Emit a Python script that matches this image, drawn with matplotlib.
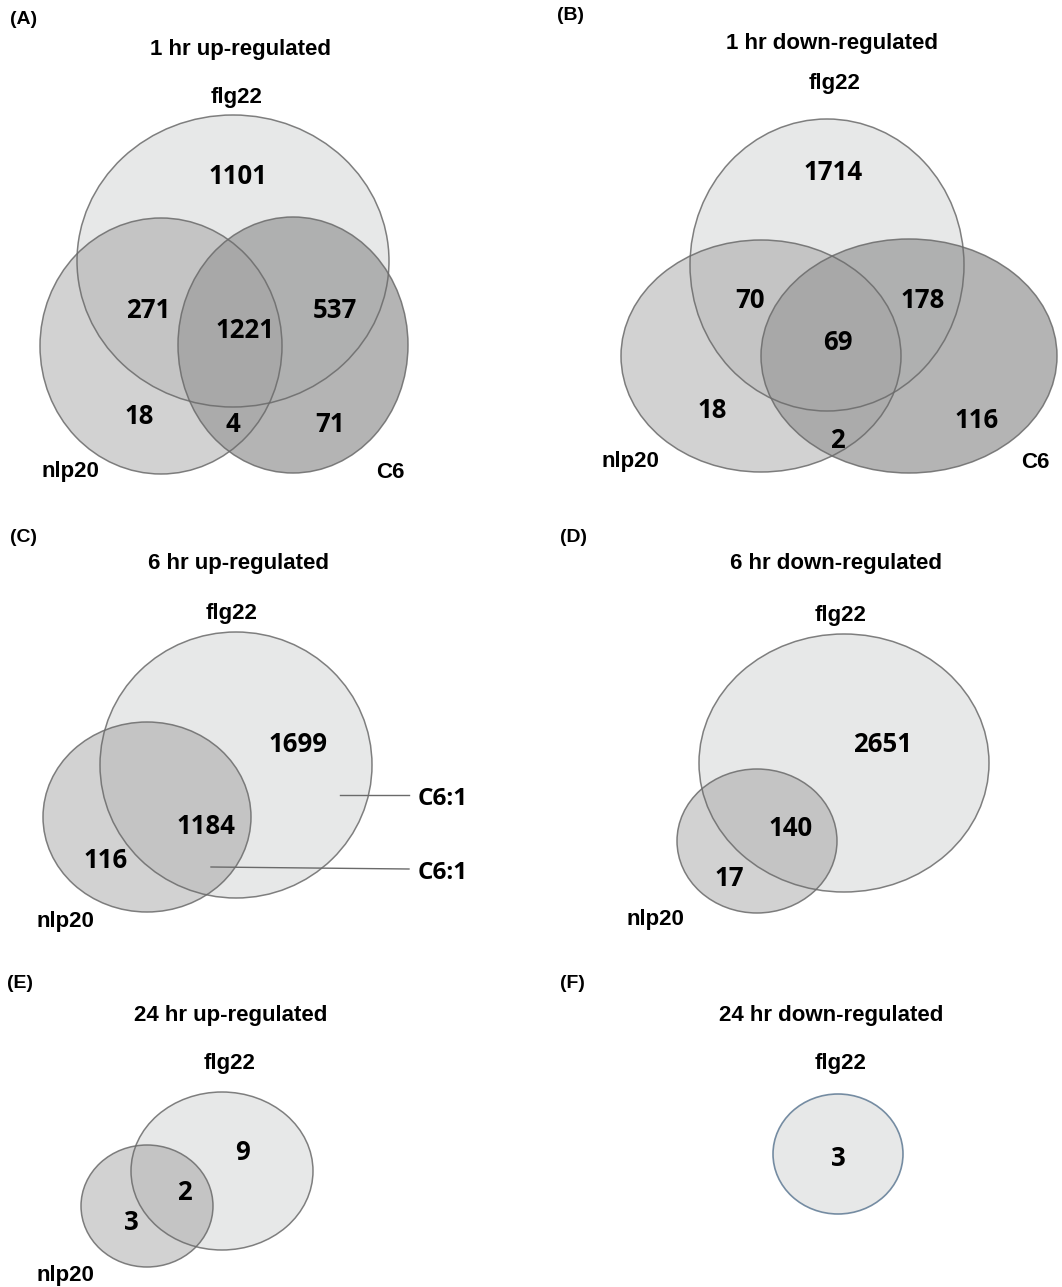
import matplotlib
matplotlib.use("Agg")
import matplotlib.pyplot as plt
from matplotlib.patches import Ellipse

# gene counts for each Venn region
counts_1h_up = [1101, 271, 1221, 537, 18, 4, 71]     # flg22, flg22&nlp20, all, flg22&C6, nlp20, nlp20&C6, C6
counts_1h_down = [1714, 70, 69, 178, 18, 2, 116]
counts_6h_up = [1699, 1184, 116]                     # flg22, flg22&nlp20, nlp20
counts_6h_down = [2651, 140, 17]
counts_24h_up = [9, 2, 3]
counts_24h_down = [3]
c6_6h_up = [1, 1]                                    # C6 genes shared with flg22 / flg22&nlp20

panel_tags = ["(A)", "(B)", "(C)", "(D)", "(E)", "(F)"]
titles = ["1 hr up-regulated", "1 hr down-regulated", "6 hr up-regulated",
          "6 hr down-regulated", "24 hr up-regulated", "24 hr down-regulated"]

W, H = 1062, 1287
fig = plt.figure(figsize=(W / 100, H / 100), dpi=100)
ax = fig.add_axes([0, 0, 1, 1])
ax.set_xlim(0, W)
ax.set_ylim(H, 0)
ax.axis("off")

label_font = dict(family="Liberation Sans", weight="bold", color="black")
num_font = dict(family="Open Sans", weight="bold", color="black", size=18.5)

fill_flg = "#e7e8e8"
fill_nlp = dict(color="#949494", alpha=0.42)
fill_c6 = dict(color="#a2a2a2", alpha=0.8)
edge = "#6a6a6a"


def set_ellipse(cx, cy, rx, ry, style, lw=1.1, ec=edge):
    if style == "flg":
        ax.add_patch(Ellipse((cx, cy), 2 * rx, 2 * ry, facecolor=fill_flg, edgecolor="none", zorder=1))
    elif style == "nlp":
        ax.add_patch(Ellipse((cx, cy), 2 * rx, 2 * ry, facecolor=fill_nlp["color"],
                             alpha=fill_nlp["alpha"], edgecolor="none", zorder=2))
    else:
        ax.add_patch(Ellipse((cx, cy), 2 * rx, 2 * ry, facecolor=fill_c6["color"],
                             alpha=fill_c6["alpha"], edgecolor="none", zorder=3))
    ax.add_patch(Ellipse((cx, cy), 2 * rx, 2 * ry, fill=False, edgecolor=ec,
                         lw=lw, alpha=0.85, zorder=5))


def header(tag, tx, ty, title, x, y):
    ax.text(tx, ty, tag, size=14, ha="left", va="center", **label_font)
    ax.text(x, y, title, size=16, ha="center", va="center", **label_font)


def set_label(x, y, s):
    ax.text(x, y, s, size=16, ha="center", va="center", zorder=10, **label_font)


def put_counts(values, spots):
    for v, (x, y) in zip(values, spots):
        ax.text(x, y, str(v), ha="center", va="center", zorder=10, **num_font)


# (A) 1 hr up-regulated
header(panel_tags[0], 10, 19, titles[0], 240, 50)
set_ellipse(233, 261, 156, 146, "flg")
set_ellipse(161, 346, 121, 128, "nlp")
set_ellipse(293, 345, 115, 128, "c6")
set_label(237, 97, "flg22")
set_label(70, 472, "nlp20")
set_label(390, 472, "C6")
put_counts(counts_1h_up, [(238, 177), (148, 311), (245, 331), (335, 311),
                          (139, 416), (233, 424), (330, 424)])

# (B) 1 hr down-regulated
header(panel_tags[1], 557, 16, titles[1], 832, 43)
set_ellipse(827, 265, 137, 146, "flg")
set_ellipse(761, 356, 140, 116, "nlp")
set_ellipse(909, 356, 148, 117, "c6")
set_label(835, 83, "flg22")
set_label(630, 462, "nlp20")
set_label(1035, 462, "C6")
put_counts(counts_1h_down, [(833, 172), (750, 300), (838, 343), (923, 300),
                            (712, 411), (837, 440), (977, 421)])

# (C) 6 hr up-regulated
header(panel_tags[2], 10, 538, titles[2], 238, 563)
set_ellipse(236, 765, 136, 133, "flg")
set_ellipse(147, 817, 104, 95, "nlp")
set_label(232, 614, "flg22")
set_label(65, 921, "nlp20")
put_counts(counts_6h_up, [(298, 745), (206, 826), (106, 861)])
ax.plot([340, 409], [795, 795], color="#6a6a6a", lw=1.0, zorder=6)
ax.plot([211, 409], [867, 869], color="#6a6a6a", lw=1.0, zorder=6)
for y, n in zip([799, 873], c6_6h_up):
    ax.text(418, y, f"C6:{n}", ha="left", va="center", family="Open Sans",
            weight="bold", size=17.5, color="black")

# (D) 6 hr down-regulated
header(panel_tags[3], 560, 538, titles[3], 836, 563)
set_ellipse(844, 763, 145, 129, "flg")
set_ellipse(757, 841, 80, 72, "nlp")
set_label(841, 616, "flg22")
set_label(655, 920, "nlp20")
put_counts(counts_6h_down, [(883, 745), (791, 829), (729, 879)])

# (E) 24 hr up-regulated
header(panel_tags[4], 7, 983, titles[4], 231, 1016)
set_ellipse(222, 1171, 91, 79, "flg")
set_ellipse(147, 1206, 66, 61, "nlp")
set_label(230, 1064, "flg22")
set_label(65, 1275, "nlp20")
put_counts(counts_24h_up, [(243, 1153), (184, 1193), (131, 1223)])

# (F) 24 hr down-regulated
header(panel_tags[5], 560, 983, titles[5], 831, 1016)
set_ellipse(838, 1154, 65, 60, "flg", lw=1.2, ec="#5f7a94")
set_label(841, 1063, "flg22")
put_counts(counts_24h_down, [(838, 1159)])

fig.savefig("out.png", dpi=100, facecolor="white")
